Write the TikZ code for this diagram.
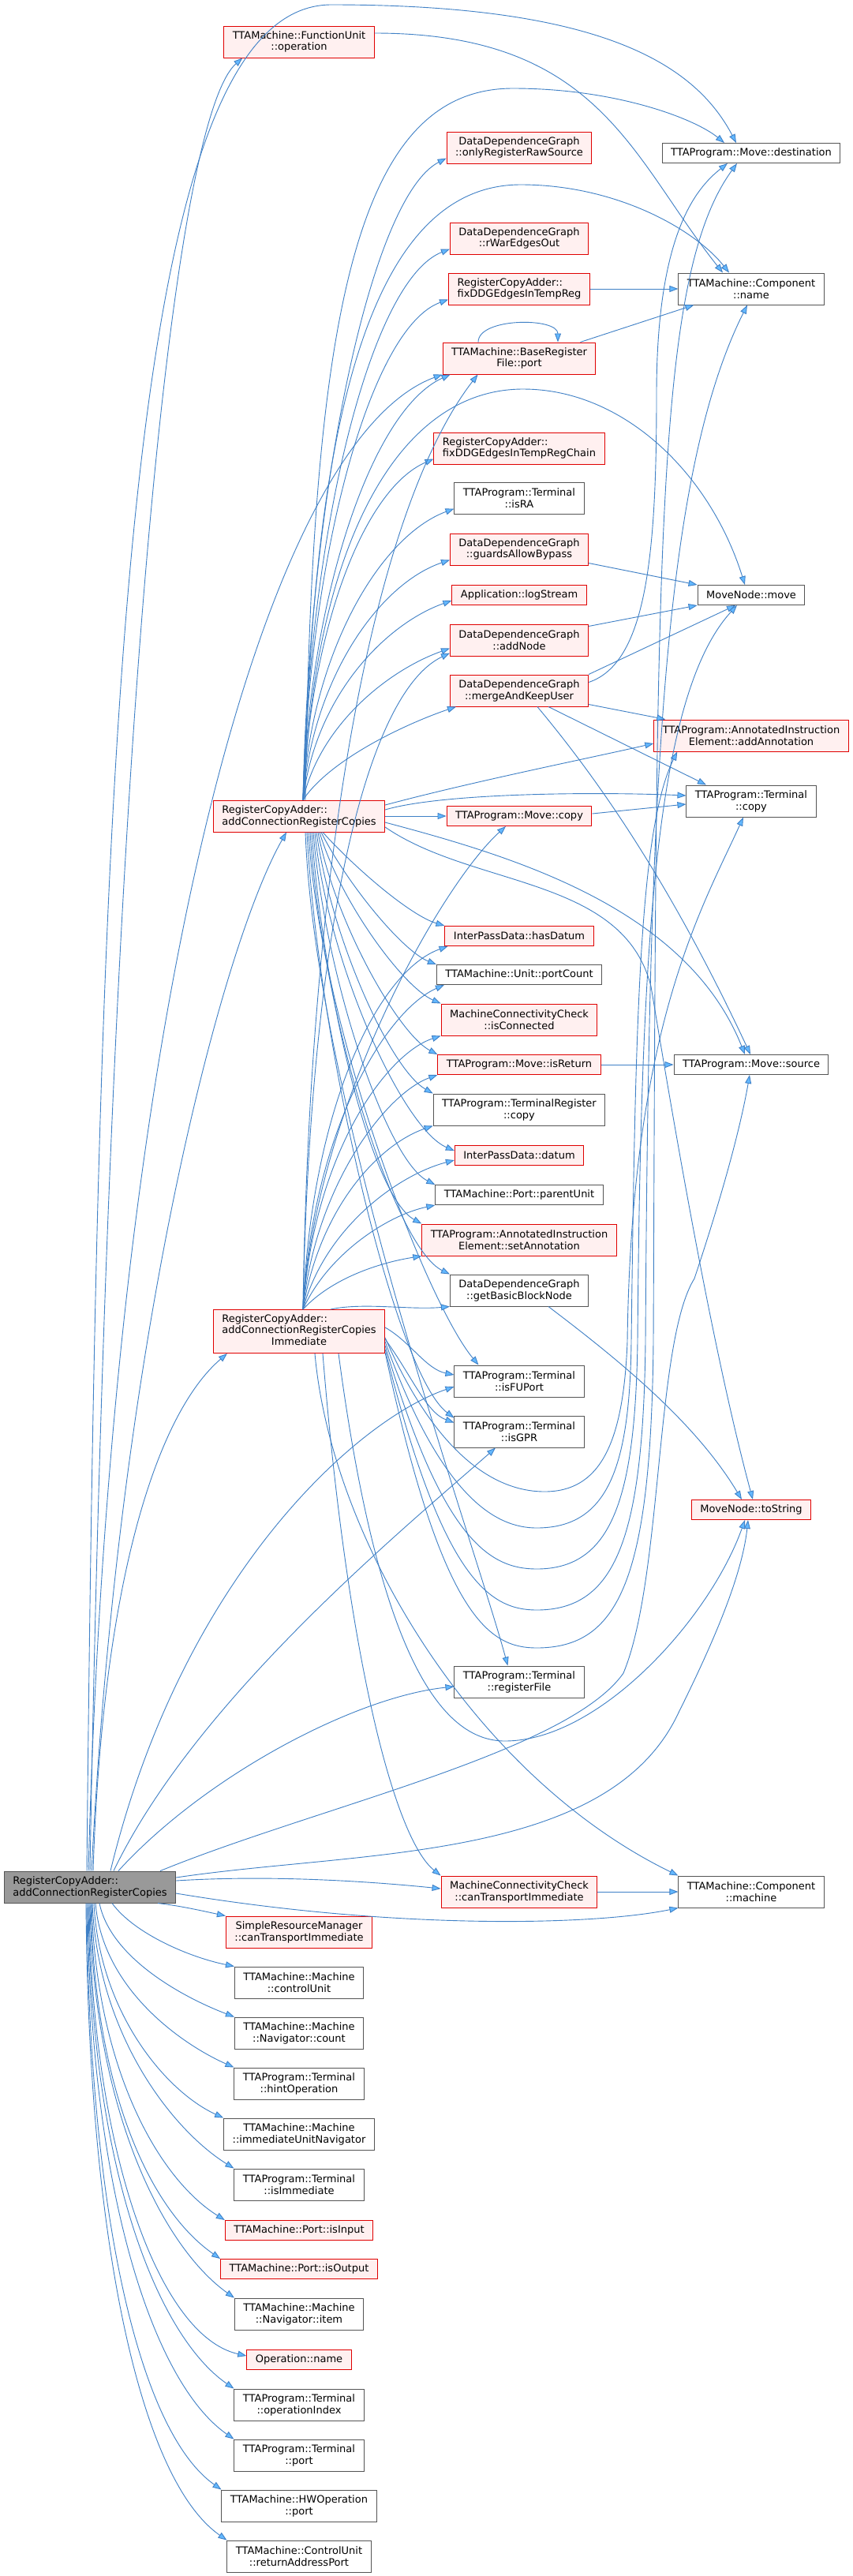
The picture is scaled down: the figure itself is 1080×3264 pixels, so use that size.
\documentclass[tikz,border=0pt]{standalone}
\usepackage{fontspec}
\setmainfont{DejaVu Sans}
\usetikzlibrary{arrows.meta}

\definecolor{edgeblue}{HTML}{3F80C6}
\definecolor{tipblue}{HTML}{63B8FF}
\definecolor{nodered}{HTML}{E00000}
\definecolor{nodepink}{HTML}{FFF0F0}
\definecolor{nodegray}{HTML}{555555}
\definecolor{rootgray}{HTML}{999999}

\begin{document}
\begin{tikzpicture}[x=1pt, y=-1pt,
    fn/.style={draw=nodegray, fill=white, line width=1pt, inner xsep=11pt, inner ysep=3pt,
        minimum height=25pt, align=center, font=\fontsize{13}{14.8}\selectfont},
    redfn/.style={fn, draw=nodered, line width=1pt, fill=nodepink},
    rootfn/.style={fn, fill=rootgray},
    dbl/.style={minimum height=40pt},
    tri/.style={minimum height=55pt},
    calls/.style={draw=edgeblue, line width=0.9pt, -{Triangle[length=11pt,width=8pt,fill=tipblue]}}]

    \fill[white] (0,0) rectangle (1080,3264);
    \useasboundingbox (0,0) rectangle (1080,3264);

    % caller
    \node[rootfn, dbl, align=left] (root) at (114,2391) {RegisterCopyAdder::\\addConnectionRegisterCopies};

    % first level
    \node[redfn, dbl] (fuop) at (379,53) {TTAMachine::FunctionUnit\\::operation};
    \node[redfn, dbl, align=left] (rca) at (379,1034) {RegisterCopyAdder::\\addConnectionRegisterCopies};
    \node[redfn, tri] (rcai) at (379,1687) {\begin{tabular}{@{}l@{}}RegisterCopyAdder::\\addConnectionRegisterCopies\\\multicolumn{1}{@{}c@{}}{Immediate}\end{tabular}};
    \node[redfn, dbl] (srm) at (379,2448) {SimpleResourceManager\\::canTransportImmediate};
    \node[fn, dbl] (ctrlunit) at (379,2512) {TTAMachine::Machine\\::controlUnit};
    \node[fn, dbl] (navcount) at (379,2576) {TTAMachine::Machine\\::Navigator::count};
    \node[fn, dbl] (hintop) at (379,2640) {TTAProgram::Terminal\\::hintOperation};
    \node[fn, dbl] (immnav) at (379,2704) {TTAMachine::Machine\\::immediateUnitNavigator};
    \node[fn, dbl] (isimm) at (379,2768) {TTAProgram::Terminal\\::isImmediate};
    \node[redfn] (isinput) at (379,2826) {TTAMachine::Port::isInput};
    \node[redfn] (isoutput) at (379,2875) {TTAMachine::Port::isOutput};
    \node[fn, dbl] (navitem) at (379,2932) {TTAMachine::Machine\\::Navigator::item};
    \node[redfn] (opname) at (379,2990) {Operation::name};
    \node[fn, dbl] (opindex) at (379,3047) {TTAProgram::Terminal\\::operationIndex};
    \node[fn, dbl] (tport) at (379,3111) {TTAProgram::Terminal\\::port};
    \node[fn, dbl] (hwport) at (379,3175) {TTAMachine::HWOperation\\::port};
    \node[fn, dbl] (raport) at (379,3239) {TTAMachine::ControlUnit\\::returnAddressPort};

    % second level
    \node[redfn, dbl] (onlyraw) at (658,187) {DataDependenceGraph\\::onlyRegisterRawSource};
    \node[redfn, dbl] (rwar) at (658,302) {DataDependenceGraph\\::rWarEdgesOut};
    \node[redfn, dbl, align=left] (fixreg) at (658,366) {RegisterCopyAdder::\\fixDDGEdgesInTempReg};
    \node[redfn, dbl] (bport) at (658,454) {TTAMachine::BaseRegister\\File::port};
    \node[redfn, dbl, align=left] (fixchain) at (658,568) {RegisterCopyAdder::\\fixDDGEdgesInTempRegChain};
    \node[fn, dbl] (isra) at (658,631) {TTAProgram::Terminal\\::isRA};
    \node[redfn, dbl] (guards) at (658,696) {DataDependenceGraph\\::guardsAllowBypass};
    \node[redfn] (logstr) at (658,754) {Application::logStream};
    \node[redfn, dbl] (addnode) at (658,811) {DataDependenceGraph\\::addNode};
    \node[redfn, dbl] (mergeuser) at (658,875) {DataDependenceGraph\\::mergeAndKeepUser};
    \node[redfn] (mcopy) at (658,1034) {TTAProgram::Move::copy};
    \node[redfn] (hasdatum) at (658,1186) {InterPassData::hasDatum};
    \node[fn] (portcount) at (658,1235) {TTAMachine::Unit::portCount};
    \node[redfn, dbl] (isconn) at (658,1292) {MachineConnectivityCheck\\::isConnected};
    \node[redfn] (isret) at (658,1349) {TTAProgram::Move::isReturn};
    \node[fn, dbl] (tregcopy) at (658,1406) {TTAProgram::TerminalRegister\\::copy};
    \node[redfn] (datum) at (658,1464) {InterPassData::datum};
    \node[fn] (parentunit) at (658,1514) {TTAMachine::Port::parentUnit};
    \node[redfn, dbl] (setann) at (658,1571) {TTAProgram::AnnotatedInstruction\\Element::setAnnotation};
    \node[fn, dbl] (getbb) at (658,1635) {DataDependenceGraph\\::getBasicBlockNode};
    \node[fn, dbl] (isfu) at (658,1750) {TTAProgram::Terminal\\::isFUPort};
    \node[fn, dbl] (isgpr) at (658,1814) {TTAProgram::Terminal\\::isGPR};
    \node[fn, dbl] (regfile) at (658,2131) {TTAProgram::Terminal\\::registerFile};
    \node[redfn, dbl] (mccti) at (658,2397) {MachineConnectivityCheck\\::canTransportImmediate};

    % third level
    \node[fn] (mdest) at (952,194) {TTAProgram::Move::destination};
    \node[fn, dbl] (cname) at (952,366) {TTAMachine::Component\\::name};
    \node[fn] (mmove) at (952,754) {MoveNode::move};
    \node[redfn, dbl] (addann) at (952,932) {TTAProgram::AnnotatedInstruction\\Element::addAnnotation};
    \node[fn, dbl] (tcopy) at (952,1015) {TTAProgram::Terminal\\::copy};
    \node[fn] (msrc) at (952,1349) {TTAProgram::Move::source};
    \node[redfn] (tostr) at (952,1913) {MoveNode::toString};
    \node[fn, dbl] (cmach) at (952,2397) {TTAMachine::Component\\::machine};

    % caller -> first level below it
    \draw[calls] ([xshift=86pt]root.south) .. controls (230,2415) and (260,2422) .. (srm.north west);
    \draw[calls] ([xshift=28pt]root.south) .. controls (170,2450) and (240,2480) .. (ctrlunit.north west);
    \draw[calls] ([xshift=12pt]root.south) .. controls (140,2480) and (230,2530) .. (navcount.north west);
    \draw[calls] ([xshift=7pt]root.south) .. controls (130,2520) and (230,2590) .. (hintop.north west);
    \draw[calls] ([xshift=5pt]root.south) .. controls (126,2550) and (210,2650) .. (immnav.north west);
    \draw[calls] ([xshift=3pt]root.south) .. controls (124,2580) and (220,2700) .. (isimm.north west);
    \draw[calls] ([xshift=2pt]root.south) .. controls (122,2620) and (200,2760) .. (isinput.north west);
    \draw[calls] ([xshift=1pt]root.south) .. controls (120,2650) and (190,2800) .. (isoutput.north west);
    \draw[calls] (root.south) .. controls (118,2680) and (210,2850) .. (navitem.north west);
    \draw[calls] ([xshift=-1pt]root.south) .. controls (116,2720) and (200,2960) .. ([yshift=5pt]opname.west);
    \draw[calls] ([xshift=-2pt]root.south) .. controls (115,2750) and (200,2960) .. (opindex.north west);
    \draw[calls] ([xshift=-3pt]root.south) .. controls (114,2780) and (195,3020) .. (tport.north west);
    \draw[calls] ([xshift=-4pt]root.south) .. controls (113,2800) and (175,3080) .. (hwport.north west);
    \draw[calls] ([xshift=-5pt]root.south) .. controls (112,2830) and (175,3140) .. (raport.north west);

    % caller -> upwards
    \draw[calls] ([xshift=4pt]root.north) .. controls (130,2000) and (200,1790) .. ([xshift=18pt]rcai.south west);
    \draw[calls] ([xshift=2pt]root.north) .. controls (150,1700) and (280,1200) .. ([xshift=-16pt]rca.south);
    \draw[calls] (root.north) .. controls (140,900) and (220,150) .. ([xshift=24pt]fuop.south west);
    \draw[calls] ([xshift=-4pt]root.north) .. controls (125,900) and (160,6) .. (420,6)
        .. controls (760,6) and (880,80) .. ([xshift=-19pt]mdest.north);
    \draw[calls] ([xshift=-2pt]root.north) .. controls (140,1300) and (330,560) .. (bport.south west);
    \draw[calls] ([xshift=30pt]root.north) .. controls (250,2150) and (520,1930) .. ([xshift=-30pt]isgpr.south);
    \draw[calls] ([xshift=26pt]root.north) .. controls (230,2000) and (450,1800) .. ([yshift=-7pt]isfu.west);
    \draw[calls] ([xshift=36pt]root.north) .. controls (260,2250) and (450,2150) .. ([yshift=-6pt]regfile.west);
    \draw[calls] ([yshift=8pt]root.east) .. controls (350,2375) and (480,2385) .. ([yshift=4pt]mccti.west);
    \draw[calls] ([yshift=-8pt]root.east) .. controls (500,2445) and (750,2440) .. (cmach.south west);
    \draw[calls] ([yshift=12pt]root.east) .. controls (450,2345) and (760,2360) .. (855,2180)
        .. controls (900,2090) and (940,2000) .. ([xshift=-4pt]tostr.south);
    \draw[calls] ([xshift=-20pt]root.north east) .. controls (400,2290) and (720,2220) .. (790,2120)
        .. controls (840,2000) and (830,1700) .. (880,1620)
        .. controls (920,1500) and (940,1420) .. ([xshift=-2pt]msrc.south);

    % function unit operation
    \draw[calls] ([yshift=11pt]fuop.east) .. controls (760,42) and (800,200) .. ([xshift=-36pt]cname.north);

    % addConnectionRegisterCopies, upwards
    \draw[calls] ([xshift=5pt]rca.north) .. controls (392,620) and (470,250) .. ([yshift=7pt]onlyraw.south west);
    \draw[calls] ([xshift=5pt]rca.north) .. controls (392,670) and (470,355) .. ([yshift=7pt]rwar.south west);
    \draw[calls] ([xshift=5pt]rca.north) .. controls (392,700) and (470,415) .. ([yshift=7pt]fixreg.south west);
    \draw[calls] ([xshift=5pt]rca.north) .. controls (392,760) and (470,520) .. ([xshift=10pt]bport.south west);
    \draw[calls] ([xshift=5pt]rca.north) .. controls (393,800) and (460,620) .. ([yshift=7pt]fixchain.south west);
    \draw[calls] ([xshift=5pt]rca.north) .. controls (394,830) and (480,680) .. ([yshift=7pt]isra.south west);
    \draw[calls] ([xshift=5pt]rca.north) .. controls (396,860) and (480,740) .. ([yshift=7pt]guards.south west);
    \draw[calls] ([xshift=5pt]rca.north) .. controls (400,880) and (490,790) .. ([yshift=6pt]logstr.south west);
    \draw[calls] ([xshift=5pt]rca.north) .. controls (405,920) and (490,850) .. ([yshift=10pt]addnode.south west);
    \draw[calls] ([xshift=5pt]rca.north) .. controls (420,960) and (520,915) .. ([xshift=8pt]mergeuser.south west);
    \draw[calls] ([xshift=8pt]rca.north) .. controls (395,400) and (450,112) .. (650,112)
        .. controls (780,112) and (880,150) .. ([xshift=-34pt]mdest.north);
    \draw[calls] ([xshift=7pt]rca.north) .. controls (396,500) and (480,234) .. (660,234)
        .. controls (780,234) and (880,290) .. ([xshift=-28pt]cname.north);
    \draw[calls] ([xshift=6pt]rca.north) .. controls (397,700) and (500,493) .. (663,493)
        .. controls (790,493) and (900,600) .. ([xshift=-8pt]mmove.north);

    % addConnectionRegisterCopies, to the right
    \draw[calls] (rca.east) -- (mcopy.west);
    \draw[calls] ([yshift=8pt]rca.east) .. controls (560,1005) and (750,1003) .. ([yshift=7pt]tcopy.west);
    \draw[calls] ([yshift=14pt]rca.east) .. controls (600,990) and (750,960) .. ([yshift=-10pt]addann.west);
    \draw[calls] ([yshift=-8pt]rca.east) .. controls (650,1085) and (870,1150) .. ([xshift=-8pt]msrc.north);
    \draw[calls] ([yshift=-14pt]rca.east) .. controls (600,1125) and (790,1110) .. (825,1250)
        .. controls (850,1400) and (900,1700) .. ([xshift=2pt]tostr.north);

    % addConnectionRegisterCopies, downwards
    \draw[calls] ([xshift=30pt]rca.south) .. controls (450,1100) and (520,1160) .. (hasdatum.north west);
    \draw[calls] ([xshift=28pt]rca.south) .. controls (440,1120) and (510,1205) .. (portcount.north west);
    \draw[calls] ([xshift=26pt]rca.south) .. controls (430,1140) and (510,1250) .. (isconn.north west);
    \draw[calls] ([xshift=24pt]rca.south) .. controls (425,1170) and (505,1310) .. (isret.north west);
    \draw[calls] ([xshift=22pt]rca.south) .. controls (420,1190) and (495,1355) .. (tregcopy.north west);
    \draw[calls] ([xshift=20pt]rca.south) .. controls (415,1220) and (510,1430) .. ([yshift=6pt]datum.west);
    \draw[calls] ([xshift=18pt]rca.south) .. controls (412,1240) and (490,1470) .. (parentunit.north west);
    \draw[calls] ([xshift=16pt]rca.south) .. controls (410,1260) and (470,1515) .. (setann.north west);
    \draw[calls] ([xshift=14pt]rca.south) .. controls (408,1290) and (500,1580) .. (getbb.north west);
    \draw[calls] ([xshift=12pt]rca.south) .. controls (405,1300) and (540,1650) .. ([xshift=31pt]isfu.north west);
    \draw[calls] ([xshift=10pt]rca.south) .. controls (403,1320) and (500,1740) .. ([yshift=-3pt]isgpr.north west);
    \draw[calls] ([xshift=8pt]rca.south) .. controls (400,1400) and (600,1950) .. ([xshift=68pt]regfile.north west);

    % addConnectionRegisterCopiesImmediate, upwards
    \draw[calls] ([xshift=5pt]rcai.north) .. controls (392,1100) and (470,650) .. ([xshift=45pt]bport.south west);
    \draw[calls] ([xshift=5pt]rcai.north) .. controls (392,1200) and (460,880) .. ([yshift=4pt]addnode.south west);
    \draw[calls] ([xshift=5pt]rcai.north) .. controls (400,1400) and (560,1120) .. ([xshift=-17pt]mcopy.south);
    \draw[calls] ([xshift=5pt]rcai.north) .. controls (395,1400) and (480,1230) .. ([xshift=4pt]hasdatum.south west);
    \draw[calls] ([xshift=5pt]rcai.north) .. controls (396,1430) and (490,1280) .. ([xshift=10pt]portcount.south west);
    \draw[calls] ([xshift=5pt]rcai.north) .. controls (398,1460) and (490,1335) .. (isconn.south west);
    \draw[calls] ([xshift=5pt]rcai.north) .. controls (400,1500) and (490,1385) .. (isret.south west);
    \draw[calls] ([xshift=5pt]rcai.north) .. controls (405,1530) and (480,1450) .. (tregcopy.south west);
    \draw[calls] ([xshift=5pt]rcai.north) .. controls (410,1560) and (500,1490) .. ([yshift=-6pt]datum.west);
    \draw[calls] ([xshift=5pt]rcai.north) .. controls (415,1590) and (490,1540) .. (parentunit.south west);
    \draw[calls] ([xshift=5pt]rcai.north) .. controls (420,1620) and (480,1600) .. (setann.south west);
    \draw[calls] ([xshift=40pt]rcai.north) .. controls (460,1650) and (520,1660) .. (getbb.south west);

    % addConnectionRegisterCopiesImmediate, to the right and down
    \draw[calls] ([yshift=5pt]rcai.east) .. controls (520,1700) and (540,1735) .. ([yshift=8pt]isfu.west);
    \draw[calls] ([yshift=-10pt]rcai.east) .. controls (520,1740) and (540,1790) .. ([yshift=-9pt]isgpr.north west);
    \draw[calls] ([xshift=30pt]rcai.south) .. controls (440,2100) and (500,2330) .. (mccti.north west);
    \draw[calls] ([xshift=20pt]rcai.south) .. controls (420,1950) and (600,2250) .. (cmach.north west);
    \draw[calls] ([xshift=50pt]rcai.south) .. controls (480,2100) and (560,2206) .. (640,2206)
        .. controls (760,2206) and (900,2050) .. ([xshift=-8pt]tostr.south);
    \draw[calls] ([yshift=-8pt]rcai.east) .. controls (560,1860) and (640,1890) .. (690,1890)
        .. controls (760,1890) and (790,1830) .. (795,1700)
        .. controls (800,1300) and (890,1150) .. ([xshift=-10pt]tcopy.south);
    \draw[calls] ([yshift=-13pt]rcai.east) .. controls (560,1900) and (630,1936) .. (680,1936)
        .. controls (770,1936) and (798,1860) .. (800,1700)
        .. controls (805,1300) and (810,1050) .. ([xshift=30pt]addann.south west);
    \draw[calls] ([yshift=-18pt]rcai.east) .. controls (560,1950) and (620,1988) .. (680,1988)
        .. controls (775,1988) and (805,1900) .. (808,1700)
        .. controls (812,1200) and (830,880) .. ([xshift=-18pt]mmove.south);
    \draw[calls] ([yshift=-23pt]rcai.east) .. controls (560,2000) and (620,2040) .. (680,2040)
        .. controls (780,2040) and (815,1950) .. (818,1700)
        .. controls (822,1000) and (840,600) .. ([xshift=-5pt]cname.south);
    \draw[calls] ([yshift=-27pt]rcai.east) .. controls (560,2050) and (620,2088) .. (680,2088)
        .. controls (785,2088) and (825,2000) .. (828,1700)
        .. controls (832,700) and (830,350) .. ([xshift=-18pt]mdest.south);

    % second level -> third level
    \draw[calls] (fixreg.east) -- (cname.west);
    \draw[calls] ([xshift=-20pt]bport.north east) -- ([xshift=20pt]cname.south west);
    \draw[calls] ([xshift=-52pt]bport.north) to[out=90, in=90, looseness=0.8] ([xshift=49pt]bport.north);
    \draw[calls] ([yshift=3pt]guards.south east) -- (mmove.north west);
    \draw[calls] ([yshift=-3pt]addnode.north east) -- (mmove.south west);
    \draw[calls] (mergeuser.north east) -- ([xshift=-20pt]mmove.south);
    \draw[calls] ([yshift=-10pt]mergeuser.north east) .. controls (820,840) and (832,700) .. (832,500)
        .. controls (832,300) and (880,240) .. ([xshift=-30pt]mdest.south);
    \draw[calls] ([yshift=3pt]mergeuser.south east) -- ([xshift=15pt]addann.north west);
    \draw[calls] ([xshift=37pt]mergeuser.south) -- ([xshift=-57pt]tcopy.north);
    \draw[calls] ([xshift=23pt]mergeuser.south) .. controls (760,990) and (850,1120) .. ([xshift=-1pt]msrc.north);
    \draw[calls] ([yshift=3pt]mcopy.east) -- ([yshift=-4pt]tcopy.west);
    \draw[calls] (isret.east) -- (msrc.west);
    \draw[calls] ([xshift=37pt]getbb.south) .. controls (780,1720) and (880,1800) .. ([xshift=-12pt]tostr.north);
    \draw[calls] (mccti.east) -- (cmach.west);
\end{tikzpicture}
\end{document}
